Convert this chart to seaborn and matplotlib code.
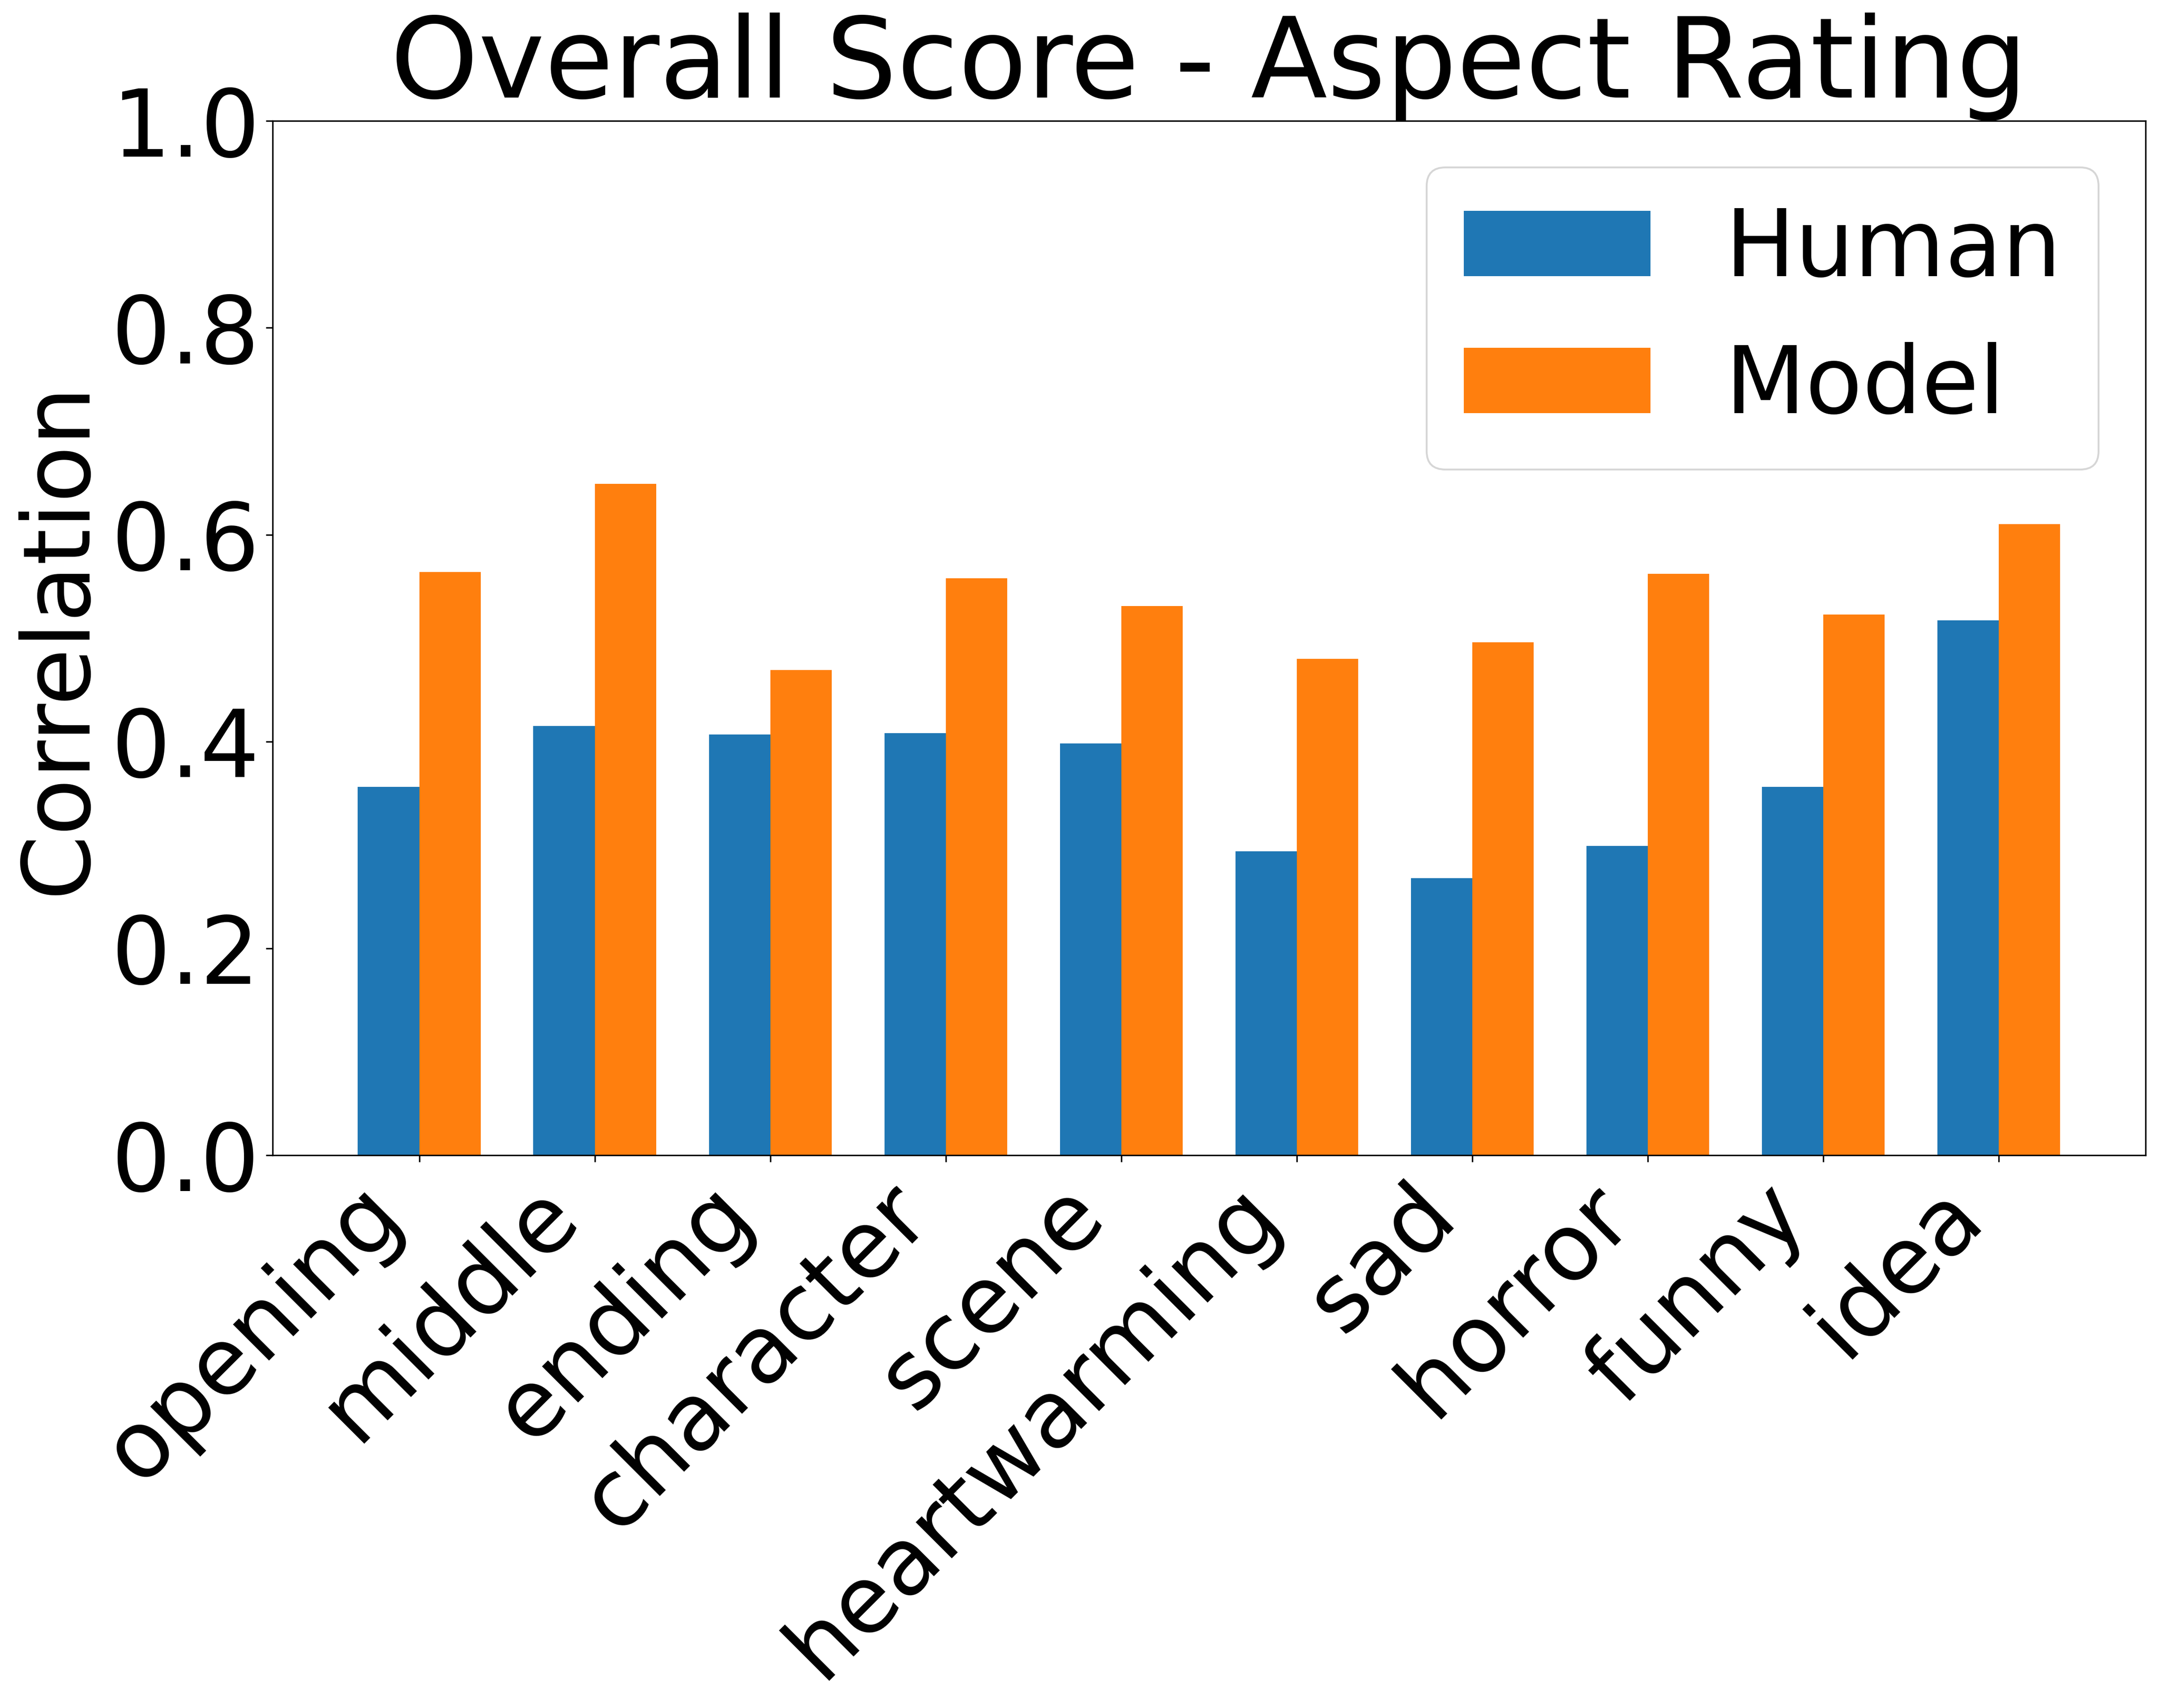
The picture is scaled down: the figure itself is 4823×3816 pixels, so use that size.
import matplotlib
matplotlib.use("Agg")
import matplotlib.pyplot as plt
import seaborn as sns
import pandas as pd

aspects = ["opening", "middle", "ending", "character", "scene",
           "heartwarming", "sad", "horror", "funny", "idea"]
human = [0.356, 0.415, 0.407, 0.408, 0.398, 0.294, 0.268, 0.299, 0.356, 0.517]
model = [0.564, 0.649, 0.469, 0.558, 0.531, 0.480, 0.496, 0.562, 0.523, 0.610]
series_names = ["Human", "Model"]
colors = ["#1f77b4", "#ff7f0e"]
yticks = [0.0, 0.2, 0.4, 0.6, 0.8, 1.0]

df = pd.DataFrame({
    "aspect": aspects * 2,
    "value": human + model,
    "source": [series_names[0]] * len(aspects) + [series_names[1]] * len(aspects),
})

plt.rcParams.update({
    'font.family': ['DejaVu Sans'],
    'text.color': 'black',
    'axes.labelcolor': 'black',
    'xtick.color': 'black',
    'ytick.color': 'black',
    'axes.edgecolor': 'black',
    'axes.facecolor': 'white',
    'figure.facecolor': 'white',
    'axes.grid': False,
})

fig, ax = plt.subplots(figsize=(16.08, 12.72), dpi=300)
fig.subplots_adjust(left=0.1263, right=0.9935, top=0.9292, bottom=0.3236)

sns.barplot(data=df, x="aspect", y="value", hue="source", order=aspects,
            hue_order=series_names, palette=colors, saturation=1, width=0.7,
            ax=ax, errorbar=None, linewidth=0)

ax.set_xlim(-0.835, len(aspects) - 1 + 0.835)
ax.set_ylim(0, 1.0)
ax.set_yticks(yticks)
ax.set_yticklabels([f"{t:.1f}" for t in yticks])
ax.tick_params(axis="both", labelsize=50, length=3.5, width=0.8, color="black",
               labelcolor="black", direction="out", bottom=True, left=True)
plt.setp(ax.get_xticklabels(), rotation=45, ha="right")
ax.set_xlabel("")
ax.set_ylabel("Correlation", fontsize=50, color="black")
ax.set_title("Overall Score - Aspect Rating", fontsize=60, color="black")
for s in ax.spines.values():
    s.set_visible(True)
    s.set_color("black")
    s.set_linewidth(0.8)

leg = ax.legend(loc="upper right", fontsize=50, frameon=True)
leg.get_frame().set_edgecolor("0.8")
leg.get_frame().set_alpha(0.8)
for t in leg.get_texts():
    t.set_color("black")

fig.savefig("out.png", dpi=300)
